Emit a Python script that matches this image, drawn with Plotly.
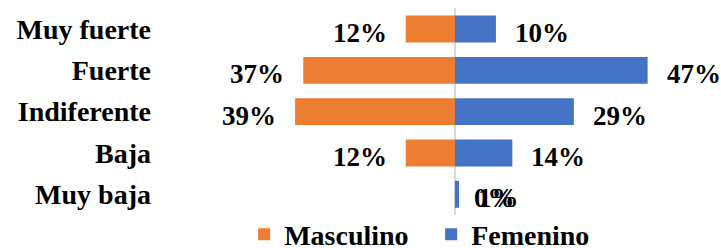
import plotly.graph_objects as go

categories = ["Muy fuerte", "Fuerte", "Indiferente", "Baja", "Muy baja"]
masculino = [12, 37, 39, 12, 0]
femenino = [10, 47, 29, 14, 1]
series_names = ["Masculino", "Femenino"]
colors = ["#ED7D31", "#4472C4"]

FONT = "Liberation Serif"
def f(size):
    return dict(family=FONT, size=size, color="black", weight="bold")

fig = go.Figure()
fig.add_trace(go.Bar(
    y=categories, x=[-v for v in masculino], orientation="h",
    name=series_names[0], marker=dict(color=colors[0], line=dict(width=0)),
))
fig.add_trace(go.Bar(
    y=categories, x=femenino, orientation="h",
    name=series_names[1], marker=dict(color=colors[1], line=dict(width=0)),
))

gap = 17
annotations = []
for cat, v in zip(categories, masculino):
    if v > 0:
        annotations.append(dict(x=-v, y=cat, text=f"{v}%", xanchor="right", xshift=-gap,
                                showarrow=False, font=f(27), yshift=-4))
    else:
        annotations.append(dict(x=0, y=cat, text=f"{v}%", xanchor="left", xshift=gap,
                                showarrow=False, font=f(27), yshift=-4))
for cat, v in zip(categories, femenino):
    annotations.append(dict(x=v, y=cat, text=f"{v}%", xanchor="left", xshift=gap,
                            showarrow=False, font=f(27), yshift=-4))

fig.update_layout(
    width=721, height=248,
    margin=dict(l=160, r=0, t=8, b=33, autoexpand=False),
    barmode="relative", bargap=0.35,
    plot_bgcolor="white", paper_bgcolor="white",
    font=f(28),
    showlegend=True,
    legend=dict(orientation="h", x=0.15, xanchor="left", y=-0.095, yanchor="middle",
                font=f(28), traceorder="normal", bgcolor="rgba(0,0,0,0)",
                entrywidth=142),
    annotations=annotations,
)
fig.update_xaxes(range=[-71.95, 64.9], showgrid=False, showticklabels=False,
                 zeroline=True, zerolinecolor="#d9d9d9", zerolinewidth=2, fixedrange=True)
fig.update_yaxes(autorange="reversed", showgrid=False, ticks="", ticklabelstandoff=8,
                 tickfont=f(28))

fig.write_html("out.html", config={"displayModeBar": False},
               post_script="document.body.style.margin='0';document.body.style.overflow='hidden';")
